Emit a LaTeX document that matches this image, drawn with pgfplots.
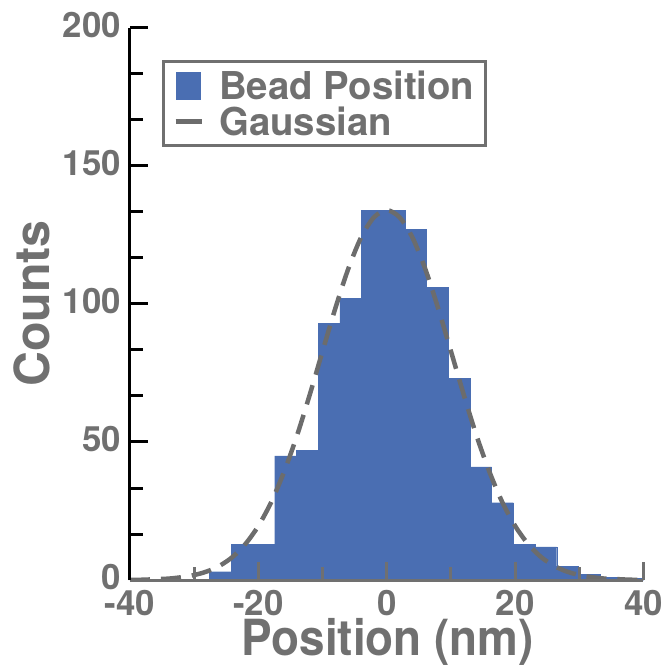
\documentclass[border=0pt]{standalone}
\usepackage{fontspec}
\setmainfont{TeX Gyre Heros}
\usepackage{graphicx}
\usepackage{pgfplots}
\pgfplotsset{compat=1.18}
\definecolor{barblue}{RGB}{74,110,178}
\definecolor{txtgray}{RGB}{112,112,112}
\definecolor{dashgray}{RGB}{108,108,108}
\begin{document}
\begin{tikzpicture}
\path[use as bounding box] (-130bp,-87bp) rectangle (539bp,580bp);
\begin{axis}[
  scale only axis, width=513.5bp, height=552bp,
  xmin=-40, xmax=40, ymin=0, ymax=200,
  axis x line*=bottom, axis y line*=left,
  axis on top,
  x axis line style={draw=txtgray, line width=3bp},
  y axis line style={draw=black, line width=3bp},
  xtick={-40,-20,...,40}, minor xtick={-30,-10,10,30},
  ytick={0,50,...,200}, minor y tick num=2,
  tick align=inside,
  major tick length=18bp, minor tick length=13bp,
  x tick style={draw=txtgray, line width=3bp},
  y tick style={draw=black, line width=3bp},
  /pgf/number format/assume math mode=true,
  tick label style={font=\bfseries\fontsize{35}{35}\selectfont, text=txtgray, inner sep=0pt},
  xticklabel shift=10bp, yticklabel shift=9bp,
  yticklabel style={yshift=3bp},
  xlabel={\scalebox{0.92}[1]{Position (nm)}}, ylabel={Counts},
  label style={text=txtgray, inner sep=0pt},
  xlabel style={font=\bfseries\fontsize{50}{50}\selectfont, at={(axis description cs:0.502,-0.1370)}, anchor=base},
  ylabel style={font=\bfseries\fontsize{48.5}{48.5}\selectfont, at={(axis description cs:-0.156,0.501)}, anchor=south},
  legend style={at={(axis description cs:0.0617,0.9415)}, anchor=north west,
    draw=txtgray, line width=3bp, fill=white,
    font=\bfseries\fontsize{38.5}{38.5}\selectfont, text=txtgray,
    inner xsep=10bp, inner ysep=8bp, row sep=4bp, column sep=14bp,
    nodes={inner sep=1bp, text=txtgray}},
  legend cell align=left,
]
\addplot[ybar interval, fill=barblue, draw=barblue, line width=0.3bp,
  legend image code/.code={\path[draw=none,fill=none] (0bp,-14bp) rectangle (25bp,14bp);
    \fill[barblue, draw=none] (0bp,-14bp) rectangle (25bp,13.6bp);}]
  table[row sep=\\] {
  x y \\
  -27.60 3 \\
  -24.22 13 \\
  -20.84 13 \\
  -17.46 45 \\
  -14.08 47 \\
  -10.70 93 \\
  -7.32 102 \\
  -3.94 134 \\
  -0.56 134 \\
  2.82 127 \\
  6.20 106 \\
  9.58 73 \\
  12.96 41 \\
  16.34 28 \\
  19.72 13 \\
  23.10 12 \\
  26.48 5 \\
  29.86 2 \\
  33.24 1 \\
  36.62 0.5 \\
  40.00 0.5 \\
  };
\addlegendentry{Bead Position}
\addplot[dashgray, line width=4.5bp, dash pattern=on 20bp off 11bp, smooth,
  legend image code/.code={\path[draw=none,fill=none] (0bp,-14bp) rectangle (25bp,14bp);
    \draw[dashgray, solid, line width=5bp] (0bp,0bp) -- (26bp,0bp);}]
  table[row sep=\\] {
  x y \\
  -40 0.06 \\
  -38 0.1 \\
  -36 0.3 \\
  -34 0.5 \\
  -32 1.0 \\
  -30 1.8 \\
  -28 3.1 \\
  -26 5.2 \\
  -24 8.4 \\
  -22 13.1 \\
  -20 19.6 \\
  -18 28.2 \\
  -16 39.2 \\
  -14 52.2 \\
  -12 67.1 \\
  -10 82.9 \\
  -8 98.5 \\
  -6 112.7 \\
  -4 124.1 \\
  -2 131.4 \\
  0 134.0 \\
  2 131.4 \\
  4 124.1 \\
  6 112.7 \\
  8 98.5 \\
  10 82.9 \\
  12 67.1 \\
  14 52.2 \\
  16 39.2 \\
  18 28.2 \\
  20 19.6 \\
  22 13.1 \\
  24 8.4 \\
  26 5.2 \\
  28 3.1 \\
  30 1.8 \\
  32 1.0 \\
  34 0.5 \\
  36 0.3 \\
  38 0.1 \\
  40 0.06 \\
  };
\addlegendentry{Gaussian}
\end{axis}
\end{tikzpicture}
\end{document}
